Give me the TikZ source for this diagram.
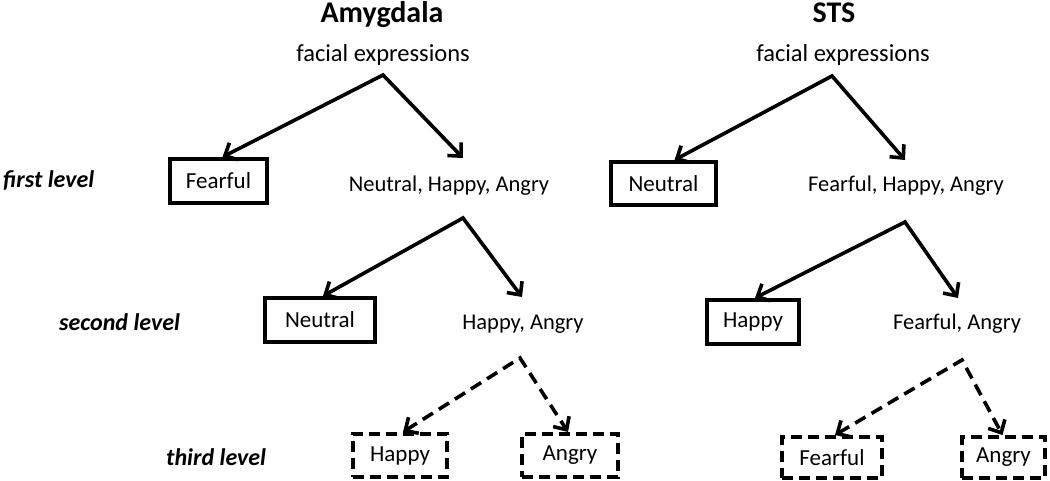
\documentclass[tikz,border=0pt]{standalone}
\usepackage{fontspec}
\setmainfont{Carlito}
\usetikzlibrary{arrows.meta}
\begin{document}
\begin{tikzpicture}[x=1pt,y=-1pt,
  title/.style={font=\fontsize{30}{34}\selectfont\bfseries, anchor=base, inner sep=0pt},
  root/.style={font=\fontsize{24.5}{28}\selectfont, anchor=base, inner sep=0pt},
  lvl/.style={font=\fontsize{24}{28}\selectfont\bfseries\itshape, anchor=base west, inner sep=0pt},
  set/.style={font=\fontsize{22.5}{26}\selectfont, anchor=base, inner sep=0pt},
  box/.style={draw, line width=4pt, inner sep=0pt, font=\fontsize{23}{26}\selectfont},
  dbox/.style={box, dash pattern=on 11pt off 6pt},
  arr/.style={line width=3.6pt, line join=miter, {Straight Barb[length=10pt,width=19pt]}-{Straight Barb[length=10pt,width=19pt]}},
  darr/.style={arr, dash pattern=on 12pt off 7pt}
]
\useasboundingbox (0,0) rectangle (1050,481);

% level labels
\node[lvl] (l1) at (3,188) {first level};
\node[lvl] (l2) at (59,330) {second level};
\node[lvl] (l3) at (166,465) {third level};

% ---------- Amygdala ----------
\node[title] (tA) at (382,23) {Amygdala};
\node[root] (fA) at (383,62) {facial expressions};
\coordinate (a0) at (383,75);
\node[box, minimum width=97pt, minimum height=44pt] (fearA) at (218.5,181) {Fearful};
\node[set] (nhaA) at (449,192) {Neutral, Happy, Angry};
\coordinate (tA1) at (463,158);
\draw[arr] ([xshift=4pt]fearA.north) -- (a0) -- (tA1);

\coordinate (a1) at (463,218);
\node[box, minimum width=110pt, minimum height=44pt] (neuA) at (320,320) {Neutral};
\node[set] (haA) at (523,329) {Happy, Angry};
\coordinate (tA2) at (522,297);
\draw[arr] ([xshift=3pt]neuA.north) -- (a1) -- (tA2);

\coordinate (a2) at (520,358);
\node[dbox, minimum width=94pt, minimum height=43pt] (hapA) at (400,455.5) {Happy};
\node[dbox, minimum width=96pt, minimum height=43pt] (angA) at (570,455.5) {Angry};
\draw[darr] ([xshift=3pt]hapA.north) -- (a2) -- ([xshift=-2pt]angA.north);

% ---------- STS ----------
\node[title] (tS) at (834,23) {STS};
\node[root] (fS) at (843,62) {facial expressions};
\coordinate (s0) at (832,76);
\node[box, minimum width=105pt, minimum height=43pt] (neuS) at (663.5,183.5) {Neutral};
\node[set] (fhaS) at (906,192) {Fearful, Happy, Angry};
\coordinate (tS1) at (905,160);
\draw[arr] ([xshift=11pt]neuS.north) -- (s0) -- (tS1);

\coordinate (s1) at (905,222);
\node[box, minimum width=92pt, minimum height=44pt] (hapS) at (753,322) {Happy};
\node[set] (faS) at (957,329) {Fearful, Angry};
\coordinate (tS2) at (958,298);
\draw[arr] ([xshift=2pt]hapS.north) -- (s1) -- (tS2);

\coordinate (s2) at (962,360);
\node[dbox, minimum width=100pt, minimum height=41pt] (fearS) at (832,457.5) {Fearful};
\node[dbox, minimum width=83pt, minimum height=41pt] (angS) at (1003.5,457.5) {Angry};
\draw[darr] ([xshift=3pt]fearS.north) -- (s2) -- ([xshift=-1pt]angS.north);
\end{tikzpicture}
\end{document}
